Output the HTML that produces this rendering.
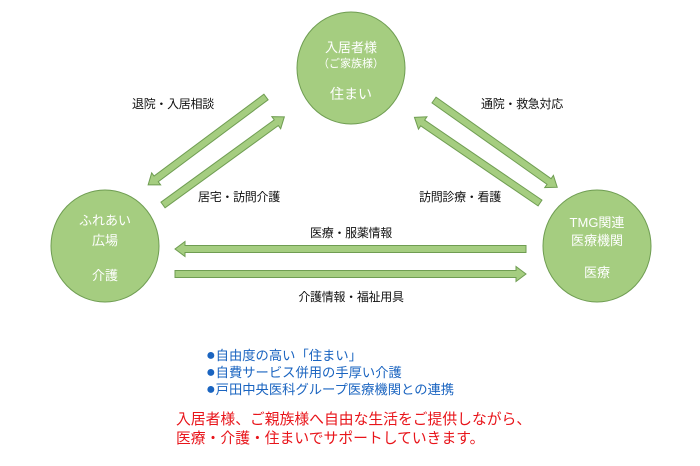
<!DOCTYPE html>
<html><head><meta charset="utf-8"><style>
body{margin:0;background:#fff;}
svg{display:block;font-family:"Liberation Sans","Noto Sans CJK JP",sans-serif;}
</style></head><body>
<svg width="700" height="466" viewBox="0 0 700 466" xmlns="http://www.w3.org/2000/svg">
<g fill="#a5cd80" stroke="#6f9d52" stroke-width="1">
<ellipse cx="351" cy="68" rx="54" ry="56"/>
<ellipse cx="105" cy="246" rx="54" ry="56"/>
<ellipse cx="597" cy="246" rx="54" ry="56"/>
<polygon transform="translate(266,97) rotate(143.3)" points="0,-3.5 137,-3.5 137,-7.5 147,0 137,7.5 137,3.5 0,3.5"/>
<polygon transform="translate(163,205) rotate(-36)" points="0,-3.5 140,-3.5 140,-7.5 150,0 140,7.5 140,3.5 0,3.5"/>
<polygon transform="translate(434,100) rotate(35.3)" points="0,-3.5 141,-3.5 141,-7.5 151,0 141,7.5 141,3.5 0,3.5"/>
<polygon transform="translate(540,203) rotate(214.3)" points="0,-3.5 142,-3.5 142,-7.5 152,0 142,7.5 142,3.5 0,3.5"/>
<polygon transform="translate(526,249) rotate(180)" points="0,-3.5 341,-3.5 341,-7.5 351,0 341,7.5 341,3.5 0,3.5"/>
<polygon transform="translate(175,274)" points="0,-3.5 341,-3.5 341,-7.5 351,0 341,7.5 341,3.5 0,3.5"/>
</g>
<g fill="#fff" font-size="13" text-anchor="middle">
<text x="351" y="52">入居者様</text>
<text x="351" y="67" font-size="11">（ご家族様）</text>
<text x="351" y="99" font-size="14">住まい</text>
<text x="105" y="225">ふれあい</text>
<text x="105" y="245">広場</text>
<text x="105" y="280">介護</text>
<text x="597" y="227">TMG関連</text>
<text x="597" y="245">医療機関</text>
<text x="597" y="277">医療</text>
</g>
<g fill="#111" font-size="12" letter-spacing="-0.3">
<text x="132" y="108">退院・入居相談</text>
<text x="481" y="108">通院・救急対応</text>
<text x="198" y="201">居宅・訪問介護</text>
<text x="419" y="201">訪問診療・看護</text>
<text x="351" y="237" text-anchor="middle">医療・服薬情報</text>
<text x="351" y="301" text-anchor="middle">介護情報・福祉用具</text>
</g>
<g fill="#1a64c0" font-size="13.3">
<text x="206" y="360"><tspan font-size="16">●</tspan>自由度の高い「住まい」</text>
<text x="206" y="377"><tspan font-size="16">●</tspan>自費サービス併用の手厚い介護</text>
<text x="206" y="394"><tspan font-size="16">●</tspan>戸田中央医科グループ医療機関との連携</text>
</g>
<g fill="#e8141a" font-size="14.8">
<text x="176" y="424">入居者様、ご親族様へ自由な生活をご提供しながら、</text>
<text x="176" y="443">医療・介護・住まいでサポートしていきます。</text>
</g>
</svg>
</body></html>
